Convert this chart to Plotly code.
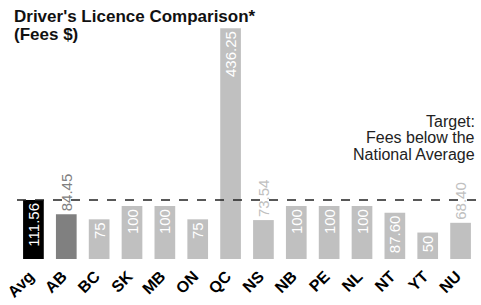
import plotly.graph_objects as go

provinces = ["Avg", "AB", "BC", "SK", "MB", "ON", "QC", "NS", "NB", "PE", "NL", "NT", "YT", "NU"]
fees = [111.56, 84.45, 75, 100, 100, 75, 436.25, 73.54, 100, 100, 100, 87.60, 50, 68.40]
fee_labels = ["111.56", "84.45", "75", "100", "100", "75", "436.25", "73.54", "100", "100", "100", "87.60", "50", "68.40"]
national_average = 111.56
title_lines = ["Driver's Licence Comparison*", "(Fees $)"]
target_lines = ["Target:", "Fees below the", "National Average"]

bar_colors = ["#000000", "#808080"] + ["#c0c0c0"] * 12
label_pos = ["inside", "outside", "inside", "inside", "inside", "inside", "inside",
             "outside", "inside", "inside", "inside", "inside", "inside", "outside"]
out_colors = ["#ffffff", "#808080"] + ["#ffffff"] * 5 + ["#c0c0c0"] + ["#ffffff"] * 5 + ["#c0c0c0"]

FONT = "Liberation Sans, Arial, sans-serif"
PLOT_TOP, PLOT_BOTTOM = 5, 262


def py(px):
    return (PLOT_BOTTOM - px) / (PLOT_BOTTOM - PLOT_TOP)


fig = go.Figure(go.Bar(
    x=provinces, y=fees, text=fee_labels,
    marker=dict(color=bar_colors, line=dict(width=0)),
    textposition=label_pos, textangle=-90,
    insidetextanchor="end",
    insidetextfont=dict(color="#ffffff", size=15, family=FONT),
    outsidetextfont=dict(color=out_colors, size=15, family=FONT),
    constraintext="none", cliponaxis=False, hoverinfo="skip",
))

fig.add_shape(type="line", xref="paper", yref="y", x0=0, x1=1.01,
              y0=national_average, y1=national_average,
              line=dict(color="#222222", width=1.5, dash="dash"))

for line, ypx in zip(target_lines, [123, 139.5, 156]):
    fig.add_annotation(x=1.0, xref="paper", y=py(ypx), yref="paper", xanchor="right", yanchor="middle",
                       text=line, showarrow=False, font=dict(size=16, color="#222222", family=FONT))

for line, ypx in zip(title_lines, [17, 35]):
    fig.add_annotation(x=-0.0107, xref="paper", y=py(ypx), yref="paper", xanchor="left", yanchor="middle",
                       text="<b>" + line + "</b>", showarrow=False,
                       font=dict(size=17, color="#111111", family=FONT))

fig.update_layout(
    width=481, height=305,
    margin=dict(l=10, r=4, t=5, b=43),
    paper_bgcolor="white", plot_bgcolor="white",
    bargap=0.37, showlegend=False,
    xaxis=dict(tickangle=-45, tickfont=dict(size=16, color="#000000", family=FONT),
               tickvals=provinces, ticktext=["<b>" + p + "</b>" for p in provinces],
               ticklabelshift=-4, ticklabelstandoff=4,
               showgrid=False, showline=False, ticks=""),
    yaxis=dict(range=[0, 480], visible=False, showgrid=False, zeroline=False),
)

fig.write_html("out.html", config={"displayModeBar": False},
               post_script="document.body.style.margin='0px';")
